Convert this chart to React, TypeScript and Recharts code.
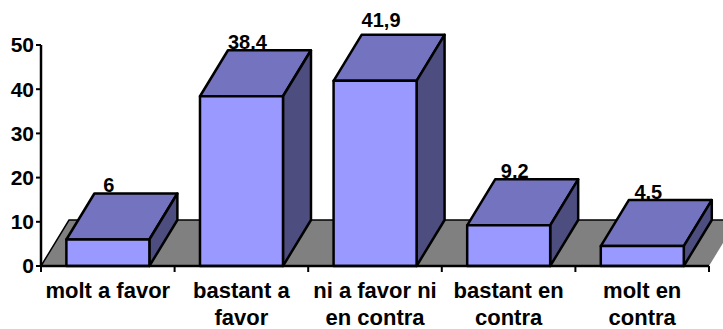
// Bar chart 3D: opinion distribution, drawn with Recharts custom shapes
import { BarChart, Bar, XAxis, YAxis, ReferenceArea } from 'recharts'

const categories = ['molt a favor', 'bastant a favor', 'ni a favor ni en contra', 'bastant en contra', 'molt en contra']
const tickLines = [['molt a favor'], ['bastant a', 'favor'], ['ni a favor ni', 'en contra'], ['bastant en', 'contra'], ['molt en', 'contra']]
const values = [6, 38.4, 41.9, 9.2, 4.5]
const yTicks = [0, 10, 20, 30, 40, 50]

const data = categories.map((name, i) => ({ name, value: values[i] }))

const WIDTH = 723
const HEIGHT = 329
const AXIS_LEFT = 41
const AXIS_BOTTOM = 63
const margin = { top: 45, right: 14, bottom: 0, left: 0 }
const band = (WIDTH - AXIS_LEFT - margin.right) / categories.length
const DX = 28
const DY = 46
const FONT = '"Liberation Sans", Arial, sans-serif'

function Floor({ x, y, width, height }: any) {
  const bottom = y + height
  const back = bottom - DY
  return (
    <g>
      <polygon points={`${x},${bottom} ${x + DX},${back} ${x + width + DX},${back} ${x + width},${bottom}`} fill="#808080" />
      <polyline points={`${x},${bottom} ${x + DX},${back} ${x + width + DX},${back}`} fill="none" stroke="#000" strokeWidth={1.5} />
    </g>
  )
}

function Box3D({ x, y, width, height, value }: any) {
  const line = { stroke: '#000', strokeWidth: 2.5, strokeLinejoin: 'round' as const }
  const text = String(value).replace('.', ',')
  // the tallest bar's label sits clear of the box, the others touch it
  const lift = value === Math.max(...values) ? 8 : 1
  return (
    <g>
      <text x={x + width / 2 + (text.length > 1 ? 6 : 1)} y={y - DY - lift} textAnchor="middle" fontFamily={FONT} fontWeight="bold" fontSize={20} fill="#000">
        {text}
      </text>
      <polygon points={`${x},${y} ${x + DX},${y - DY} ${x + width + DX},${y - DY} ${x + width},${y}`} fill="#7373BF" {...line} />
      <polygon points={`${x + width},${y} ${x + width + DX},${y - DY} ${x + width + DX},${y + height - DY} ${x + width},${y + height}`} fill="#4D4D80" {...line} />
      <rect x={x} y={y} width={width} height={height} fill="#9999FF" {...line} />
    </g>
  )
}

function CategoryTick({ x, y, index }: any) {
  const left = x - band / 2
  const right = x + band / 2
  const top = y - 8
  return (
    <g>
      <line x1={left} x2={left} y1={top} y2={top + 6} stroke="#000" strokeWidth={2} />
      {index === categories.length - 1 && <line x1={right} x2={right} y1={top} y2={top + 6} stroke="#000" strokeWidth={2} />}
      <text textAnchor="middle" fontFamily={FONT} fontWeight="bold" fontSize={22} fill="#000">
        {tickLines[index].map((t, i) => (
          <tspan key={t} x={x} y={top + 32 + i * 27}>{t}</tspan>
        ))}
      </text>
    </g>
  )
}

export default function App() {
  return (
    <div style={{ position: 'absolute', left: 0, top: 0, width: WIDTH, height: HEIGHT, background: '#fff' }}>
      <BarChart width={WIDTH} height={HEIGHT} data={data} margin={margin} barCategoryGap="19%">
        <ReferenceArea y1={0} y2={10} ifOverflow="visible" shape={<Floor />} />
        <XAxis dataKey="name" height={AXIS_BOTTOM} interval={0} tickLine={false} axisLine={{ stroke: '#000', strokeWidth: 2.5 }} tick={<CategoryTick />} />
        <YAxis
          domain={[0, 50]}
          ticks={yTicks}
          width={AXIS_LEFT}
          axisLine={{ stroke: '#000', strokeWidth: 2.5 }}
          tickLine={{ stroke: '#000', strokeWidth: 2 }}
          tickSize={5}
          tick={{ fill: '#000', fontFamily: FONT, fontWeight: 'bold', fontSize: 21 }}
        />
        <Bar dataKey="value" isAnimationActive={false} shape={<Box3D />} />
      </BarChart>
    </div>
  )
}
